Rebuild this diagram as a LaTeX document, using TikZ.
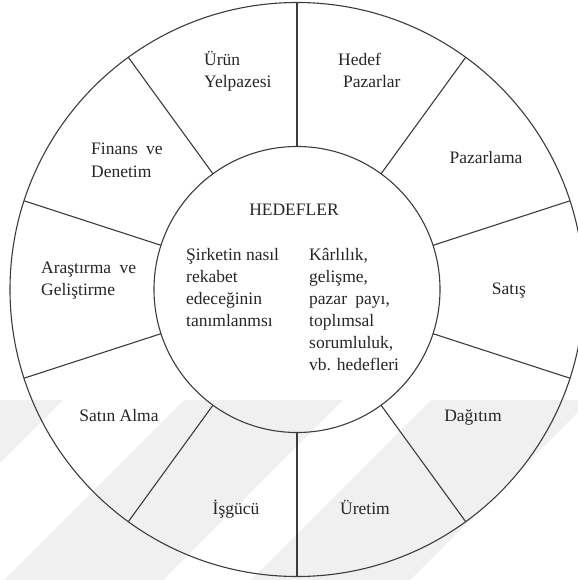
\documentclass[tikz,border=0pt]{standalone}
\usepackage{fontspec}
\setmainfont{Liberation Serif}
\usetikzlibrary{calc}
\definecolor{linegray}{HTML}{3C3C3C}
\definecolor{txt}{HTML}{262626}
\definecolor{wmark}{HTML}{F0F0F0}
\begin{document}
\begin{tikzpicture}[x=1bp,y=-1bp,
  ringline/.style={draw=linegray, line width=1.1bp},
  lbl/.style={font=\fontsize{17.5bp}{22bp}\selectfont, text=txt, inner sep=0pt, align=left},
  wstripe/.style={fill=wmark, draw=none}]
\useasboundingbox (0,0) rectangle (578,580);
\clip (0,0) rectangle (578,580);
\fill[white] (0,0) rectangle (578,580);

% faint diagonal background stripes
\fill[wstripe] (-20,400) -- (63,400) -- (-117,580) -- (-200,580) -- cycle;
\fill[wstripe] (184,400) -- (343,400) -- (163,580) -- (4,580) -- cycle;
\fill[wstripe] (431,400) -- (590,400) -- (410,580) -- (251,580) -- cycle;

% wheel
\coordinate (c) at (297,289.5);
\draw[ringline] (c) circle[radius=287];
\draw[ringline] (c) circle[radius=143];
\foreach \a in {90,54,18,-18,-54,-90,-126,-162,162,126}{
  \draw[ringline] ($(c)+(\a:143)$) -- ($(c)+(\a:287)$);
}

% centre (multi-line nodes are placed by the baseline of their last line)
\node[lbl, anchor=base] (hed) at (294,215) {HEDEFLER};
\node[lbl, anchor=base west] (nasil) at (186,326) {Şirketin nasıl\\rekabet\\edeceğinin\\tanımlanmsı};
\node[lbl, anchor=base west] (karl) at (309,370) {Kârlılık,\\gelişme,\\pazar\hspace{4bp} payı,\\toplımsal\\sorumluluk,\\vb. hedefleri};

% segments
\node[lbl, anchor=base west] (urun) at (204,88) {Ürün\\Yelpazesi};
\node[lbl, anchor=base west] (hpaz) at (338,88) {Hedef\\\hspace*{5bp}Pazarlar};
\node[lbl, anchor=base] (paz) at (486,164) {Pazarlama};
\node[lbl, anchor=base] (sat) at (509,294) {Satış};
\node[lbl, anchor=base] (dag) at (473,421) {Dağıtım};
\node[lbl, anchor=base] (ure) at (365,514) {Üretim};
\node[lbl, anchor=base] (isg) at (236,514) {İşgücü};
\node[lbl, anchor=base] (satin) at (119,421) {Satın Alma};
\node[lbl, anchor=base west] (arge) at (41,295) {Araştırma\hspace{4bp} ve\\Geliştirme};
\node[lbl, anchor=base west] (fin) at (91,177) {Finans\hspace{4bp} ve\\Denetim};
\end{tikzpicture}
\end{document}
